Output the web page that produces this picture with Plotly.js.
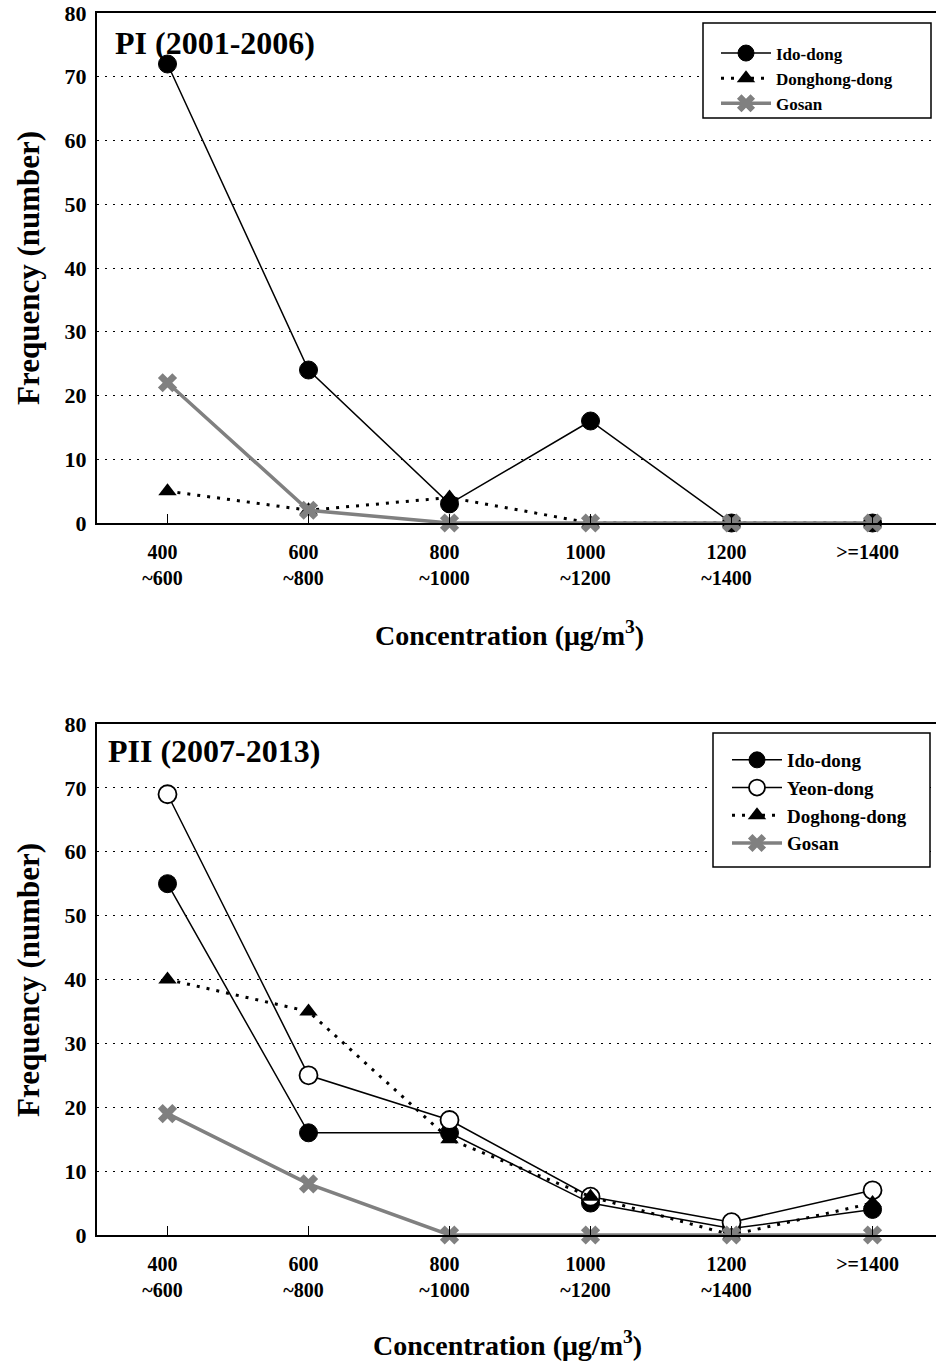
<!DOCTYPE html>
<html>
<head>
<meta charset="utf-8">
<script src="https://cdn.plot.ly/plotly-3.0.1.min.js"></script>
<style>html,body{margin:0;padding:0;background:#fff}#chart{width:936px;height:1361px}</style>
</head>
<body>
<div id="chart"></div>
<script>
// Categories (concentration bins, µg/m3)
const categories = ["400<br>~600", "600<br>~800", "800<br>~1000", "1000<br>~1200", "1200<br>~1400", ">=1400"];
const catIndex = [0, 1, 2, 3, 4, 5];

// Period I (2001-2006)
const p1_ido = [72, 24, 3, 16, 0, 0];
const p1_donghong = [5, 2, 4, 0, 0, 0];
const p1_gosan = [22, 2, 0, 0, 0, 0];

// Period II (2007-2013)
const p2_ido = [55, 16, 16, 5, 1, 4];
const p2_yeon = [69, 25, 18, 6, 2, 7];
const p2_doghong = [40, 35, 15, 6, 0, 5];
const p2_gosan = [19, 8, 0, 0, 0, 0];

const yTicks = [0, 10, 20, 30, 40, 50, 60, 70, 80];

const FONT = "Liberation Serif, Times New Roman, serif";
const GRAY = "#808080";

function idoStyle(xa, ya, lg) {
  return {mode: "lines+markers", line: {color: "#000", width: 1.5},
    marker: {symbol: "circle", size: 18, color: "#000", line: {color: "#000", width: 1}},
    xaxis: xa, yaxis: ya, legend: lg, cliponaxis: false};
}
const traces = [
  Object.assign(idoStyle("x", "y", "legend"), {name: "Ido-dong", x: catIndex, y: p1_ido}),
  {name: "Donghong-dong", x: catIndex, y: p1_donghong, mode: "lines+markers",
   line: {color: "#000", width: 3, dash: "3px,7px"},
   marker: {symbol: "triangle-up", size: 16, color: "#000"},
   xaxis: "x", yaxis: "y", legend: "legend", cliponaxis: false},
  {name: "Gosan", x: catIndex, y: p1_gosan, mode: "lines+markers",
   line: {color: GRAY, width: 3.5},
   marker: {symbol: "x", size: 17, color: GRAY, line: {width: 0}},
   xaxis: "x", yaxis: "y", legend: "legend", cliponaxis: false},

  Object.assign(idoStyle("x2", "y2", "legend2"), {name: "Ido-dong", x: catIndex, y: p2_ido}),
  {name: "Yeon-dong", x: catIndex, y: p2_yeon, mode: "lines+markers",
   line: {color: "#000", width: 1.5},
   marker: {symbol: "circle", size: 18, color: "#fff", line: {color: "#000", width: 1.8}},
   xaxis: "x2", yaxis: "y2", legend: "legend2", cliponaxis: false},
  {name: "Doghong-dong", x: catIndex, y: p2_doghong, mode: "lines+markers",
   line: {color: "#000", width: 3, dash: "3px,7px"},
   marker: {symbol: "triangle-up", size: 16, color: "#000"},
   xaxis: "x2", yaxis: "y2", legend: "legend2", cliponaxis: false},
  {name: "Gosan", x: catIndex, y: p2_gosan, mode: "lines+markers",
   line: {color: GRAY, width: 3.5},
   marker: {symbol: "x", size: 17, color: GRAY, line: {width: 0}},
   xaxis: "x2", yaxis: "y2", legend: "legend2", cliponaxis: false}
];

const H = 1361, W = 936;
const xTickFont = {family: FONT, size: 20, color: "#000", weight: "bold"};
const yTickFont = {family: FONT, size: 22, color: "#000", weight: "bold"};

function xAxis(anchor) {
  return {anchor: anchor, domain: [97 / W, 1], range: [-0.5, 5.45],
    tickmode: "array", tickvals: catIndex, ticktext: categories,
    ticks: "inside", ticklen: 9, tickwidth: 1.5, tickcolor: "#000",
    showline: true, linecolor: "#000", linewidth: 2, mirror: true,
    showgrid: false, zeroline: false, tickfont: xTickFont, ticklabelshift: -5,
    ticklabelstandoff: 10, fixedrange: true};
}
function yAxis(anchor, top, bottom) {
  return {anchor: anchor, domain: [1 - bottom / H, 1 - top / H], range: [0, 80],
    tickmode: "array", tickvals: yTicks, ticks: "",
    showline: true, linecolor: "#000", linewidth: 2, mirror: false,
    showgrid: true, gridcolor: "#000", gridwidth: 1, griddash: "2px,6px",
    zeroline: false, tickfont: yTickFont, ticklabelstandoff: 4, fixedrange: true};
}

const legendBase = {bgcolor: "rgba(0,0,0,0)", borderwidth: 0,
  xanchor: "left", yanchor: "top", itemwidth: 50, tracegroupgap: 0};

const annFont = (s) => ({family: FONT, size: s, color: "#000", weight: "bold"});
const px = (v) => v / W, py = (v) => 1 - v / H;
const layout = {
  width: W, height: H,
  margin: {l: 0, r: 0, t: 0, b: 0},
  paper_bgcolor: "#fff", plot_bgcolor: "#fff",
  showlegend: true,
  xaxis: xAxis("y"), yaxis: yAxis("x", 13, 523),
  xaxis2: xAxis("y2"), yaxis2: yAxis("x2", 724, 1235),
  legend: Object.assign({}, legendBase, {x: px(716), y: py(35.5),
    font: {family: FONT, size: 17, color: "#000", weight: "bold"}}),
  legend2: Object.assign({}, legendBase, {x: px(727), y: py(741),
    font: {family: FONT, size: 19, color: "#000", weight: "bold"}}),
  shapes: [
    {type: "rect", xref: "paper", yref: "paper", x0: px(703), x1: px(931), y0: py(118), y1: py(23),
     line: {color: "#000", width: 1.5}, fillcolor: "#fff", layer: "above"},
    {type: "rect", xref: "paper", yref: "paper", x0: px(713), x1: px(930), y0: py(867), y1: py(733),
     line: {color: "#000", width: 1.5}, fillcolor: "#fff", layer: "above"}
  ],
  annotations: [
    {text: "PI (2001-2006)", xref: "paper", yref: "paper", x: px(113), y: py(43),
     xanchor: "left", yanchor: "middle", showarrow: false, font: annFont(32)},
    {text: "PII (2007-2013)", xref: "paper", yref: "paper", x: px(106), y: py(751),
     xanchor: "left", yanchor: "middle", showarrow: false, font: annFont(32)},
    {text: "Frequency (number)", xref: "paper", yref: "paper", x: px(28), y: py(268),
     xanchor: "center", yanchor: "middle", textangle: -90, showarrow: false, font: annFont(31)},
    {text: "Frequency (number)", xref: "paper", yref: "paper", x: px(28), y: py(980),
     xanchor: "center", yanchor: "middle", textangle: -90, showarrow: false, font: annFont(31)},
    {text: "Concentration (μg/m<sup>3</sup>)", xref: "paper", yref: "paper", x: px(510), y: py(633),
     xanchor: "center", yanchor: "middle", showarrow: false, font: annFont(28)},
    {text: "Concentration (μg/m<sup>3</sup>)", xref: "paper", yref: "paper", x: px(508), y: py(1343),
     xanchor: "center", yanchor: "middle", showarrow: false, font: annFont(28)}
  ]
};

Plotly.newPlot("chart", traces, layout, {staticPlot: true, displayModeBar: false});
</script>
</body>
</html>
